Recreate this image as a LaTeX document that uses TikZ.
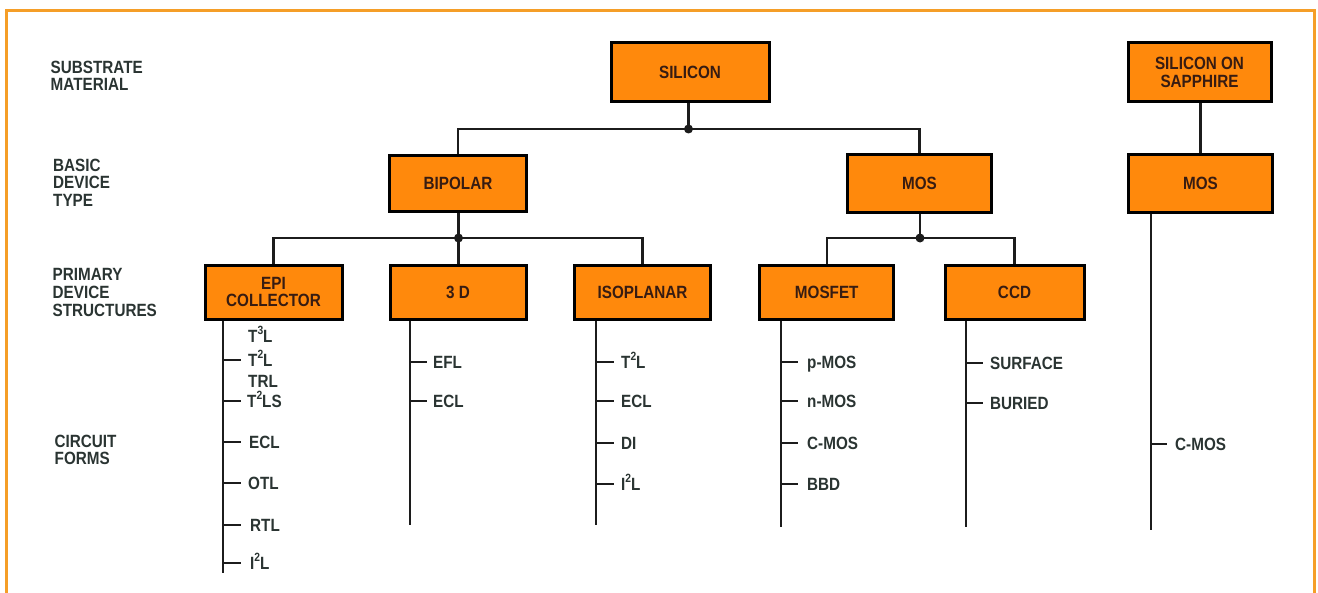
\documentclass[tikz,border=0pt]{standalone}
\usepackage{fontspec}
\setmainfont[FakeStretch=0.86,UprightFont={* Bold}]{Liberation Sans}
\definecolor{boxfill}{RGB}{255,137,12}
\definecolor{boxtext}{RGB}{55,28,18}
\definecolor{sidetext}{RGB}{42,52,50}
\definecolor{framecol}{RGB}{245,158,40}
\definecolor{linecol}{RGB}{28,28,28}
\newcommand{\sups}[1]{\raisebox{0.42em}{\fontsize{12}{12}\selectfont #1}}
\tikzset{
  box/.style={draw=black, line width=3bp, fill=boxfill, text=boxtext, inner sep=0pt, align=center,
    font=\fontsize{17.8}{18}\selectfont},
  side/.style={anchor=north west, inner sep=0pt, align=left, text=sidetext,
    font=\fontsize{17.8}{17.7}\selectfont},
  item/.style={anchor=west, inner sep=0pt, text height=12.7bp, text depth=0pt, text=sidetext,
    font=\fontsize{17.8}{18}\selectfont},
  conn/.style={draw=linecol, line width=2.3bp},
  tick/.style={draw=linecol, line width=2.3bp},
  jdot/.style={fill=linecol},
  frame/.style={draw=framecol, line width=3bp}
}
\begin{document}
\begin{tikzpicture}[x=1bp, y=-1bp]
\useasboundingbox (0,0) rectangle (1318,593);
\draw[frame] (6,593) -- (6,11) -- (1314,11) -- (1314,593);

% side labels
\node[side] (l1) at (50.5,60.5) {SUBSTRATE\\MATERIAL};
\node[side] (l2) at (53,158.5) {BASIC\\DEVICE\\TYPE};
\node[side] (l3) at (52.5,268.5) {PRIMARY\\DEVICE\\STRUCTURES};
\node[side] (l4) at (54.5,434.5) {CIRCUIT\\FORMS};

% boxes
\node[box, minimum width=158bp, minimum height=59bp] (sil) at (690,72.5) {SILICON};
\node[box, minimum width=143bp, minimum height=59bp] (sos) at (1199.5,72.5) {SILICON ON\\SAPPHIRE};
\node[box, minimum width=137bp, minimum height=56bp] (bip) at (458,183.5) {BIPOLAR};
\node[box, minimum width=144bp, minimum height=57bp] (mos) at (919.5,183.5) {MOS};
\node[box, minimum width=144bp, minimum height=57bp] (mos2) at (1200.5,183.5) {MOS};
\node[box, minimum width=137bp, minimum height=54bp] (epi) at (273.5,292) {EPI\\COLLECTOR};
\node[box, minimum width=136bp, minimum height=54bp] (d3) at (458,292) {3 D};
\node[box, minimum width=136bp, minimum height=54bp] (iso) at (642.5,292) {ISOPLANAR};
\node[box, minimum width=134bp, minimum height=54bp] (mosfet) at (826.7,292) {MOSFET};
\node[box, minimum width=139bp, minimum height=54bp] (ccd) at (1014.5,292) {CCD};

% junctions
\coordinate (j1) at (688.5,129);
\coordinate (j2) at (458.5,238);
\coordinate (j3) at (920,238);

\draw[conn] (sil.south -| j1) -- (j1);
\draw[conn] (bip.north) -- (bip.north |- j1) -- (mos.north |- j1) -- (mos.north);
\fill[jdot] (j1) circle (4.5);

\draw[conn] (bip.south -| j2) -- (j2);
\draw[conn] (epi.north) -- (epi.north |- j2) -- (iso.north |- j2) -- (iso.north);
\draw[conn] (j2) -- (d3.north -| j2);
\fill[jdot] (j2) circle (4.5);

\draw[conn] (mos.south -| j3) -- (j3);
\draw[conn] (mosfet.north) -- (mosfet.north |- j3) -- (ccd.north |- j3) -- (ccd.north);
\fill[jdot] (j3) circle (4.5);

\draw[conn] (sos.south -| mos2) -- (mos2.north);

% vertical stems
\coordinate (epiEnd) at (223,573);
\coordinate (d3End) at (410,525);
\coordinate (isoEnd) at (596,525);
\coordinate (mfEnd) at (781,527);
\coordinate (ccdEnd) at (966,527);
\coordinate (m2End) at (1151,530);
\draw[conn] (epi.south -| epiEnd) -- (epiEnd);
\draw[conn] (d3.south -| d3End) -- (d3End);
\draw[conn] (iso.south -| isoEnd) -- (isoEnd);
\draw[conn] (mosfet.south -| mfEnd) -- (mfEnd);
\draw[conn] (ccd.south -| ccdEnd) -- (ccdEnd);
\draw[conn] (mos2.south -| m2End) -- (m2End);

% EPI items
\node[item] (e1) at (248,336) {T\sups{3}L};
\node[item] (e2) at (248,360) {T\sups{2}L};
\node[item] (e3) at (248,381) {TRL};
\node[item] (e4) at (247,401) {T\sups{2}LS};
\node[item] (e5) at (249,442) {ECL};
\node[item] (e6) at (248,483) {OTL};
\node[item] (e7) at (250,525) {RTL};
\node[item] (e8) at (250,563) {I\sups{2}L};
\foreach \n in {e2,e4,e5,e6,e7,e8}
  \draw[tick] (\n.west -| epiEnd) -- ++(18,0);

% 3D items
\node[item] (a1) at (433,362) {EFL};
\node[item] (a2) at (433,401) {ECL};
\foreach \n in {a1,a2}
  \draw[tick] (\n.west -| d3End) -- ++(17,0);

% ISOPLANAR items
\node[item] (i1) at (621,362) {T\sups{2}L};
\node[item] (i2) at (621,401) {ECL};
\node[item] (i3) at (621,443) {DI};
\node[item] (i4) at (621,484) {I\sups{2}L};
\foreach \n in {i1,i2,i3,i4}
  \draw[tick] (\n.west -| isoEnd) -- ++(18,0);

% MOSFET items
\node[item] (m1) at (807,362) {p-MOS};
\node[item] (m2) at (807,401) {n-MOS};
\node[item] (m3) at (807,443) {C-MOS};
\node[item] (m4) at (807,484) {BBD};
\foreach \n in {m1,m2,m3,m4}
  \draw[tick] (\n.west -| mfEnd) -- ++(17,0);

% CCD items
\node[item] (c1) at (990,363) {SURFACE};
\node[item] (c2) at (990,403) {BURIED};
\foreach \n in {c1,c2}
  \draw[tick] (\n.west -| ccdEnd) -- ++(17,0);

% SOS MOS items
\node[item] (s1) at (1175,444) {C-MOS};
\draw[tick] (s1.west -| m2End) -- ++(16,0);
\end{tikzpicture}
\end{document}
